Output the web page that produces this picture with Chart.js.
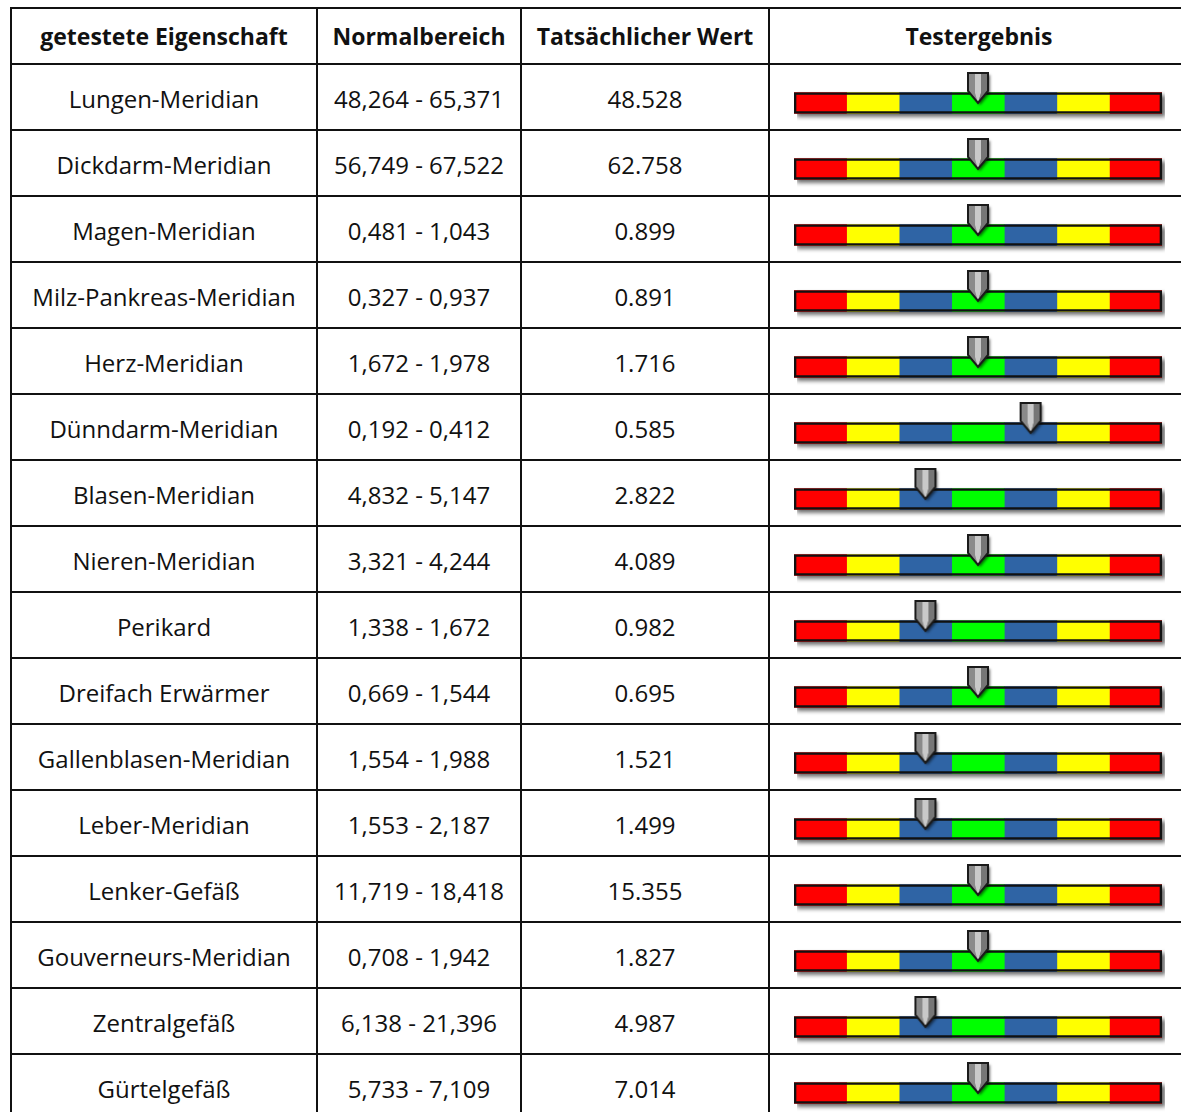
<!DOCTYPE html>
<html>
<head>
<meta charset="utf-8">
<script src="https://cdn.jsdelivr.net/npm/chart.js@4.4.1/dist/chart.umd.min.js"></script>
<style>
  html, body { margin: 0; padding: 0; background: #fff; overflow: hidden; }
  body { width: 1181px; height: 1112px; position: relative; font-family: "Open Sans", sans-serif; color: #111; }
  #grid {
    position: absolute; left: 10px; top: 7px;
    display: grid;
    grid-template-columns: 306px 204px 248px 420px;
    grid-template-rows: 56px repeat(16, 66px);
    border-left: 2px solid #111; border-top: 2px solid #111;
  }
  #grid div {
    box-sizing: border-box;
    border-right: 2px solid #111; border-bottom: 2px solid #111;
    display: flex; align-items: center; justify-content: center;
    font-size: 24px; white-space: nowrap; padding-top: 2px;
  }
  #grid div.head { font-weight: bold; font-size: 23px; padding-top: 0; }
  #wrap { position: absolute; left: 771px; top: 70px; width: 410px; height: 1056px; }
</style>
</head>
<body>
<div id="grid"></div>
<div id="wrap"><canvas id="gauges" width="410" height="1056"></canvas></div>
<script>
// table data
const headers = ['getestete Eigenschaft', 'Normalbereich', 'Tatsächlicher Wert', 'Testergebnis']
const properties = ['Lungen-Meridian', 'Dickdarm-Meridian', 'Magen-Meridian', 'Milz-Pankreas-Meridian',
  'Herz-Meridian', 'Dünndarm-Meridian', 'Blasen-Meridian', 'Nieren-Meridian', 'Perikard',
  'Dreifach Erwärmer', 'Gallenblasen-Meridian', 'Leber-Meridian', 'Lenker-Gefäß',
  'Gouverneurs-Meridian', 'Zentralgefäß', 'Gürtelgefäß']
const normalRanges = ['48,264 - 65,371', '56,749 - 67,522', '0,481 - 1,043', '0,327 - 0,937',
  '1,672 - 1,978', '0,192 - 0,412', '4,832 - 5,147', '3,321 - 4,244', '1,338 - 1,672',
  '0,669 - 1,544', '1,554 - 1,988', '1,553 - 2,187', '11,719 - 18,418',
  '0,708 - 1,942', '6,138 - 21,396', '5,733 - 7,109']
const actualValues = ['48.528', '62.758', '0.899', '0.891', '1.716', '0.585', '2.822', '4.089',
  '0.982', '0.695', '1.521', '1.499', '15.355', '1.827', '4.987', '7.014']
// gauge zones (left to right) and where the pointer sits, in zone units
const zones = ['rot', 'gelb', 'blau', 'grün', 'blau', 'gelb', 'rot']
const zoneWidths = [1, 1, 1, 1, 1, 1, 1]
const markerPos = [3.5, 3.5, 3.5, 3.5, 3.5, 4.5, 2.5, 3.5, 2.5, 3.5, 2.5, 2.5, 3.5, 3.5, 2.5, 3.5]

const zoneColors = { 'rot': '#ff0000', 'gelb': '#ffff00', 'blau': '#2f64a5', 'grün': '#00ff00' }

// build the table cells
const grid = document.getElementById('grid')
headers.forEach(h => {
  const d = document.createElement('div')
  d.className = 'head'
  d.textContent = h
  grid.appendChild(d)
})
properties.forEach((p, i) => {
  ;[p, normalRanges[i], actualValues[i], ''].forEach(t => {
    const d = document.createElement('div')
    d.textContent = t
    grid.appendChild(d)
  })
})

// pointer image, tip sits at the centre of the image
function makePointer() {
  const c = document.createElement('canvas')
  c.width = 34; c.height = 70
  const g = c.getContext('2d')
  const l = 7, r = 27, top = 5, mid = 23, tip = 35, cx = (l + r) / 2
  g.save()
  g.shadowColor = 'rgba(0,0,0,0.6)'
  g.shadowBlur = 3
  g.shadowOffsetX = 2
  g.shadowOffsetY = 2
  g.beginPath()
  g.moveTo(l, top); g.lineTo(r, top); g.lineTo(r, mid); g.lineTo(cx, tip); g.lineTo(l, mid); g.closePath()
  g.fillStyle = '#8a8a8a'
  g.fill()
  g.restore()
  // lighter stripe in the middle, darker right side
  g.beginPath()
  g.moveTo(cx - 3, top); g.lineTo(cx + 3, top); g.lineTo(cx + 3, mid + 2); g.lineTo(cx, tip); g.lineTo(cx - 3, mid + 2); g.closePath()
  g.fillStyle = '#c9c9c9'
  g.fill()
  g.beginPath()
  g.moveTo(cx + 3, top); g.lineTo(r, top); g.lineTo(r, mid); g.lineTo(cx, tip); g.lineTo(cx + 3, mid + 2); g.closePath()
  g.fillStyle = '#767676'
  g.fill()
  g.beginPath()
  g.moveTo(l, top); g.lineTo(r, top); g.lineTo(r, mid); g.lineTo(cx, tip); g.lineTo(l, mid); g.closePath()
  g.lineWidth = 2
  g.strokeStyle = '#1a1a1a'
  g.stroke()
  return c
}

const totalWidth = zoneWidths.reduce((a, b) => a + b, 0)

// blurred drop shadow for the dataset named 'schatten'
const shadowPlugin = {
  id: 'barShadow',
  beforeDatasetDraw(chart, args) {
    if (chart.data.datasets[args.index].label !== 'schatten') return
    chart.ctx.save()
    chart.ctx.filter = 'blur(2px)'
    chart.ctx.translate(3, 3)
  },
  afterDatasetDraw(chart, args) {
    if (chart.data.datasets[args.index].label !== 'schatten') return
    chart.ctx.restore()
  }
}

const datasets = []
datasets.push({
  type: 'line', label: 'Zeiger', data: markerPos, showLine: false,
  pointStyle: makePointer(), pointRadius: 10, order: 0, clip: false
})
datasets.push({
  label: 'rahmen', data: properties.map(() => totalWidth), stack: 'rahmen',
  backgroundColor: 'rgba(0,0,0,0)', borderColor: '#111', borderWidth: 2, borderSkipped: false, order: 1
})
zones.forEach((z, i) => {
  datasets.push({
    label: z, data: properties.map(() => zoneWidths[i]), stack: 'zonen',
    backgroundColor: zoneColors[z], borderWidth: 0, order: 2
  })
})
datasets.push({
  label: 'schatten', data: properties.map(() => totalWidth), stack: 'schatten',
  backgroundColor: 'rgba(0,0,0,0.6)', borderWidth: 0, order: 3
})
datasets.forEach(ds => {
  if (!ds.type) { ds.grouped = false; ds.barThickness = 21 }
})

new Chart(document.getElementById('gauges'), {
  type: 'bar',
  data: { labels: properties, datasets: datasets },
  options: {
    indexAxis: 'y',
    responsive: false,
    animation: false,
    events: [],
    layout: { autoPadding: false, padding: { left: 23, right: 19, top: 0, bottom: 0 } },
    plugins: { legend: { display: false }, tooltip: { enabled: false } },
    scales: {
      x: { display: false, stacked: true, min: 0, max: totalWidth },
      y: { display: false, stacked: true }
    }
  },
  plugins: [shadowPlugin]
})
</script>
</body>
</html>
